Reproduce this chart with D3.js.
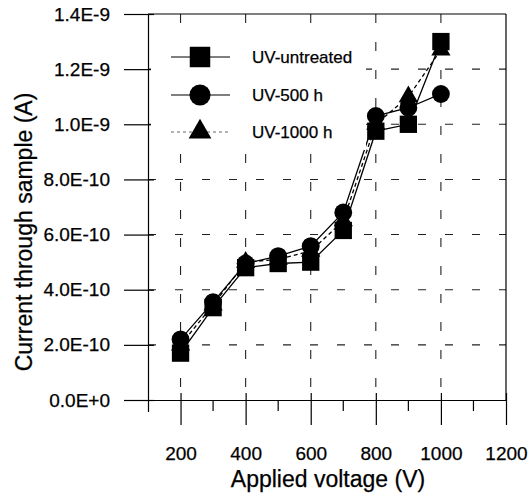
<!DOCTYPE html>
<html>
<head>
<meta charset="utf-8">
<script src="https://cdn.jsdelivr.net/npm/d3@7"></script>
<style>
  body { margin: 0; background: #fff; }
  svg { display: block; font-family: Arial, "Liberation Sans", sans-serif; }
  text { stroke: #000; stroke-width: 0.25px; }
</style>
</head>
<body>
<script>
// data (current in units of 1E-10 A)
const voltages = [200, 300, 400, 500, 600, 700, 800, 900, 1000];
const untreated = [1.7, 3.35, 4.8, 4.95, 5.0, 6.15, 9.75, 10.0, 13.0];
const uv500 = [2.2, 3.55, 4.95, 5.22, 5.58, 6.8, 10.3, 10.6, 11.1];
const uv1000 = [2.0, 3.45, 5.0, 5.1, 5.4, 6.5, 10.0, 11.0, 12.7];

const xTicks = [200, 400, 600, 800, 1000, 1200];
const xMinorTicks = [300, 500, 700, 900, 1100];
const yTicks = [0, 2, 4, 6, 8, 10, 12, 14];
const yTickLabels = ['0.0E+0', '2.0E-10', '4.0E-10', '6.0E-10', '8.0E-10', '1.0E-9', '1.2E-9', '1.4E-9'];
const seriesNames = ['UV-untreated', 'UV-500 h', 'UV-1000 h'];

const width = 529, height = 495;
const plotLeft = 148, plotRight = 506, plotTop = 14, plotBottom = 400;

const svg = d3.select('body').append('svg')
    .attr('width', width)
    .attr('height', height);

const x = d3.scaleLinear().domain([100, 1200]).range([plotLeft, plotRight]);
const y = d3.scaleLinear().domain([0, 14]).range([plotBottom, plotTop]);

// grid
svg.append('g').selectAll('line')
    .data(xTicks.slice(0, -1))
    .enter().append('line')
    .attr('x1', d => x(d)).attr('x2', d => x(d))
    .attr('y1', plotTop).attr('y2', plotBottom)
    .attr('stroke', '#222').attr('stroke-width', 1.1)
    .attr('stroke-dasharray', '9,19');

svg.append('g').selectAll('line')
    .data(yTicks.slice(1, -1))
    .enter().append('line')
    .attr('x1', plotLeft).attr('x2', plotRight)
    .attr('y1', d => y(d)).attr('y2', d => y(d))
    .attr('stroke', '#222').attr('stroke-width', 1.1)
    .attr('stroke-dasharray', '8,19');

// frame
svg.append('line').attr('x1', plotLeft).attr('x2', plotRight).attr('y1', plotTop).attr('y2', plotTop)
    .attr('stroke', '#000').attr('stroke-width', 1.2);
svg.append('line').attr('x1', plotRight).attr('x2', plotRight).attr('y1', plotTop).attr('y2', plotBottom)
    .attr('stroke', '#000').attr('stroke-width', 1.2);

// axes
const yAxis = svg.append('g')
    .attr('transform', `translate(${plotLeft},0)`)
    .call(d3.axisLeft(y).tickValues(yTicks).tickSizeInner(24).tickSizeOuter(0)
        .tickPadding(14).tickFormat((d, i) => yTickLabels[i]));
yAxis.selectAll('.tick line').attr('x1', 6).attr('stroke-width', 1.2);
yAxis.select('.domain').attr('d', `M0.5,${plotTop}V${plotBottom + 12}`).attr('stroke-width', 1.2);
yAxis.selectAll('text').attr('font-size', 19).attr('fill', '#000');

const xAxis = svg.append('g')
    .attr('transform', `translate(0,${plotBottom})`)
    .call(d3.axisBottom(x).tickValues(xTicks).tickSizeInner(25).tickSizeOuter(0)
        .tickFormat(d3.format('d')));
xAxis.selectAll('.tick line').attr('y1', -7).attr('stroke-width', 1.2);
xAxis.select('.domain').attr('d', `M${plotLeft - 8},0.5H${plotRight}`).attr('stroke-width', 1.2);
xAxis.selectAll('text').attr('font-size', 19).attr('fill', '#000')
    .attr('y', 60).attr('dy', 0);

xAxis.selectAll('.minor').data(xMinorTicks).enter().append('line')
    .attr('class', 'minor')
    .attr('x1', d => x(d)).attr('x2', d => x(d))
    .attr('y1', 0).attr('y2', 11)
    .attr('stroke', '#000').attr('stroke-width', 1.2);

// axis titles
svg.append('text')
    .attr('x', 328).attr('y', 487)
    .attr('text-anchor', 'middle').attr('font-size', 23)
    .text('Applied voltage (V)');

svg.append('text')
    .attr('transform', 'translate(32,232) rotate(-90)')
    .attr('text-anchor', 'middle').attr('font-size', 23)
    .text('Current through sample (A)');

// series
const series = [
    { name: seriesNames[0], values: untreated, shape: d3.symbolSquare, dash: null },
    { name: seriesNames[1], values: uv500, shape: d3.symbolCircle, dash: null },
    { name: seriesNames[2], values: uv1000, shape: d3.symbolTriangle, dash: '4,3' }
];

const line = d3.line().x(d => x(d[0])).y(d => y(d[1]));

series.forEach(s => {
    const pts = voltages.map((v, i) => [v, s.values[i]]);
    svg.append('path')
        .attr('d', line(pts))
        .attr('fill', 'none')
        .attr('stroke', '#000')
        .attr('stroke-width', 1.3)
        .attr('stroke-dasharray', s.dash);
});

const markerSize = { square: 300, circle: 250, triangle: 160 };
function symbolSize(shape, scale) {
    if (shape === d3.symbolSquare) return markerSize.square * scale;
    if (shape === d3.symbolCircle) return markerSize.circle * scale;
    return markerSize.triangle * scale;
}

series.forEach(s => {
    svg.append('g').selectAll('path')
        .data(voltages.map((v, i) => [v, s.values[i]]))
        .enter().append('path')
        .attr('transform', d => `translate(${x(d[0])},${y(d[1])})`)
        .attr('d', d3.symbol().type(s.shape).size(symbolSize(s.shape, 1)))
        .attr('fill', '#000');
});

// legend
const legend = svg.append('g');
legend.append('rect')
    .attr('x', 151).attr('y', 25).attr('width', 215).attr('height', 125)
    .attr('fill', '#fff');

const legendY = [57, 95, 132];
series.forEach((s, i) => {
    legend.append('line')
        .attr('x1', 171).attr('x2', 230)
        .attr('y1', legendY[i]).attr('y2', legendY[i])
        .attr('stroke', s.dash ? '#666' : '#000').attr('stroke-width', 1.2)
        .attr('stroke-dasharray', s.dash ? '3,3' : null);
    legend.append('path')
        .attr('transform', `translate(200,${legendY[i]})`)
        .attr('d', d3.symbol().type(s.shape).size(symbolSize(s.shape, 1.4)))
        .attr('fill', '#000');
    legend.append('text')
        .attr('x', 252).attr('y', legendY[i] + 6)
        .attr('font-size', 17)
        .text(s.name);
});
</script>
</body>
</html>
